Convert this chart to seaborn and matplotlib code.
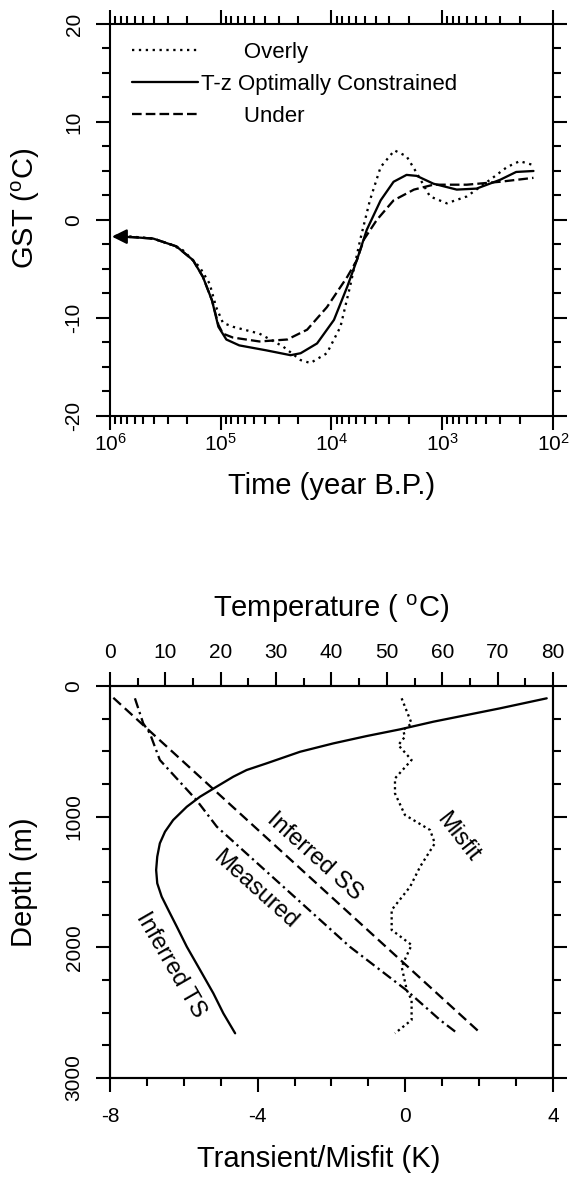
import numpy as np
import pandas as pd
import matplotlib
matplotlib.use("Agg")
import matplotlib.pyplot as plt
from matplotlib.ticker import MultipleLocator, FixedLocator
import seaborn as sns

# --- Panel 1: GST histories (time in years B.P.) ---
t_optimal = [891000, 631000, 407000, 251000, 178000, 145000, 120000, 105000, 89000,
             68000, 39000, 23400, 19000, 13500, 9500, 7200, 5900, 4800, 3600, 2750,
             2100, 1700, 1200, 740, 490, 300, 215, 150]
gst_optimal = [-1.7, -1.75, -1.9, -2.7, -4.1, -5.8, -8.2, -10.9, -12.2,
               -12.8, -13.3, -13.8, -13.6, -12.6, -10.2, -6.8, -4.1, -1.0, 2.0, 3.9,
               4.6, 4.5, 3.7, 3.1, 3.2, 4.1, 4.9, 5.0]

t_overly = [891000, 631000, 407000, 282000, 219000, 155000, 126000, 110000, 95500,
            77600, 44700, 27500, 19000, 15500, 11000, 8300, 6800, 5500, 4500, 3600,
            2700, 2100, 1700, 1290, 910, 600, 370, 260, 200, 150]
gst_overly = [-1.6, -1.7, -1.9, -2.5, -3.1, -4.8, -6.5, -8.9, -10.5,
              -10.9, -11.6, -12.9, -14.3, -14.6, -13.6, -10.9, -6.8, -2.0, 2.0, 5.4,
              7.1, 6.5, 4.8, 2.4, 1.7, 2.4, 4.1, 5.4, 6.0, 5.6]

t_under = [891000, 631000, 407000, 251000, 178000, 145000, 120000, 105000, 95500,
           77600, 44700, 25100, 16600, 11000, 7200, 5900, 5100, 3900, 2750, 1800,
           1200, 600, 300, 150]
gst_under = [-1.7, -1.75, -1.9, -2.7, -4.1, -5.8, -8.2, -10.7, -11.6,
             -12.0, -12.4, -12.2, -11.2, -8.9, -5.8, -4.1, -2.0, 0.0, 2.0, 3.1,
             3.6, 3.6, 3.9, 4.3]

arrow_gst = -1.7
arrow_tail_t = 700000
arrow_tip_t = 960000

legend_labels = ["       Overly", "T-z Optimally Constrained", "       Under"]

# --- Panel 2: temperature / transient profiles vs depth ---
depth_ss = [90, 2660]
temp_ss = [0.6, 67.0]

depth_measured = [94, 286, 362, 566, 872, 1077, 1536, 1995, 2327, 2556, 2663]
temp_measured = [4.5, 6.0, 7.2, 9.0, 15.6, 19.3, 31.3, 43.3, 53.5, 59.6, 62.9]

depth_ts = [94, 171, 273, 332, 383, 439, 503, 592, 643, 694, 770, 847, 924, 1026,
            1115, 1204, 1306, 1408, 1510, 1612, 1714, 1842, 1995, 2173, 2352, 2505, 2658]
transient_ts = [3.83, 2.56, 0.76, -0.15, -1.05, -1.95, -2.85, -3.76, -4.30, -4.66,
                -5.11, -5.56, -5.92, -6.29, -6.51, -6.65, -6.72, -6.75, -6.72, -6.60,
                -6.42, -6.19, -5.92, -5.56, -5.20, -4.93, -4.61]

depth_misfit = [94, 286, 337, 388, 452, 566, 707, 822, 987, 1102, 1204, 1383, 1536,
                1714, 1867, 1982, 2148, 2327, 2403, 2556, 2658]
misfit = [-0.10, 0.17, -0.06, -0.01, -0.19, 0.17, -0.28, -0.28, -0.01, 0.67, 0.80,
          0.40, 0.13, -0.37, -0.37, 0.17, -0.10, 0.04, 0.17, 0.17, -0.28]

curve_labels = ["Inferred SS", "Measured", "Misfit", "Inferred TS"]
label_x = [-2.45, -4.07, 1.43, -6.37]
label_depth = [1309, 1561, 1156, 2135]
label_rot = [-42, -42, -52, -60]

sns.set_theme(style="ticks")
plt.rcParams["font.family"] = ["Liberation Sans", "DejaVu Sans"]
plt.rcParams["mathtext.fontset"] = "custom"
plt.rcParams["mathtext.rm"] = "Liberation Sans"
plt.rcParams["mathtext.it"] = "Liberation Sans:italic"
plt.rcParams["axes.unicode_minus"] = False
plt.rcParams["text.color"] = "black"
plt.rcParams["axes.labelcolor"] = "black"
plt.rcParams["xtick.color"] = "black"
plt.rcParams["ytick.color"] = "black"
plt.rcParams["axes.edgecolor"] = "black"
plt.rcParams["axes.linewidth"] = 1.5

LW = 1.65
TICK_FS = 15
LABEL_FS = 21

fig = plt.figure(figsize=(5.75, 11.82), dpi=100)
ax1 = fig.add_axes([0.1913, 0.6481, 0.7704, 0.3316])
ax3 = fig.add_axes([0.1913, 0.0880, 0.7704, 0.3316])

# ---------- top panel ----------
sns.lineplot(x=t_overly, y=gst_overly, ax=ax1, color="black", lw=LW, sort=False,
             estimator=None, linestyle=(0, (1, 2.0)))
sns.lineplot(x=t_optimal, y=gst_optimal, ax=ax1, color="black", lw=LW, sort=False,
             estimator=None, linestyle="-")
sns.lineplot(x=t_under, y=gst_under, ax=ax1, color="black", lw=LW, sort=False,
             estimator=None, linestyle=(0, (4.2, 1.8)))
ax1.annotate("", xy=(arrow_tip_t, arrow_gst), xytext=(arrow_tail_t, arrow_gst),
             arrowprops=dict(arrowstyle="-|>", color="black", lw=LW,
                             mutation_scale=22, shrinkA=0, shrinkB=0))

ax1.set_xscale("log")
ax1.set_xlim(1e6, 1e2)
ax1.set_ylim(-20, 20)
ax1.yaxis.set_major_locator(FixedLocator([-20, -10, 0, 10, 20]))
ax1.yaxis.set_minor_locator(MultipleLocator(2.5))
ax1.tick_params(which="both", direction="out", top=True, right=True, width=1.5,
                labelsize=TICK_FS, color="black")
ax1.tick_params(which="major", length=10)
ax1.tick_params(which="minor", length=5.5)
ax1.tick_params(axis="x", pad=2)
ax1.tick_params(axis="y", pad=9)
plt.setp(ax1.get_yticklabels(), rotation=90, va="center")

ax1.set_xlabel("Time (year B.P.)", fontsize=LABEL_FS)
ax1.set_ylabel("GST ($^{\\mathrm{o}}$C)", fontsize=LABEL_FS)
ax1.xaxis.set_label_coords(0.5, -0.143)
ax1.yaxis.set_label_coords(-0.153, 0.53)

handles = ax1.get_lines()[:3]
ax1.legend(handles, legend_labels, loc="upper left", frameon=False, fontsize=16,
           handlelength=2.95, handletextpad=0.15, labelspacing=0.5,
           borderpad=0, borderaxespad=0, bbox_to_anchor=(0.05, 0.954))

# ---------- bottom panel ----------
sns.lineplot(x=transient_ts, y=depth_ts, ax=ax3, color="black", lw=LW, sort=False,
             estimator=None, linestyle="-")
sns.lineplot(x=misfit, y=depth_misfit, ax=ax3, color="black", lw=LW, sort=False,
             estimator=None, linestyle=(0, (1, 1.5)))
ax3.set_xlim(-8, 4)
ax3.set_ylim(3000, 0)
ax3.xaxis.set_major_locator(FixedLocator([-8, -4, 0, 4]))
ax3.xaxis.set_minor_locator(MultipleLocator(1))
ax3.yaxis.set_major_locator(FixedLocator([0, 1000, 2000, 3000]))
ax3.yaxis.set_minor_locator(MultipleLocator(250))

for txt, x, d, r in zip(curve_labels, label_x, label_depth, label_rot):
    ax3.text(x, d, txt, rotation=r, ha="center", va="center",
             rotation_mode="anchor", fontsize=17)

ax4 = ax3.twiny()
sns.lineplot(x=temp_ss, y=depth_ss, ax=ax4, color="black", lw=LW, sort=False,
             estimator=None, linestyle=(0, (4.5, 2.3)))
sns.lineplot(x=temp_measured, y=depth_measured, ax=ax4, color="black", lw=LW,
             sort=False, estimator=None, linestyle=(0, (4.5, 1.8, 1, 1.8)))
ax4.set_xlim(0, 80)
ax4.set_ylim(3000, 0)
ax4.xaxis.set_major_locator(MultipleLocator(10))
ax4.xaxis.set_minor_locator(MultipleLocator(5))

ax3.tick_params(which="both", direction="out", bottom=True, top=False, right=True,
                width=1.5, labelsize=TICK_FS, color="black")
ax3.tick_params(which="major", length=10)
ax3.tick_params(which="minor", length=5.5)
ax3.tick_params(axis="x", pad=11)
ax3.tick_params(axis="y", pad=9)
ax4.tick_params(which="both", direction="out", top=True, bottom=False, width=1.5,
                labelsize=TICK_FS, color="black", pad=7)
ax4.tick_params(which="major", length=10)
ax4.tick_params(which="minor", length=5.5)
plt.setp(ax3.get_yticklabels(), rotation=90, va="center")

ax3.set_xlabel("Transient/Misfit (K)", fontsize=LABEL_FS)
ax3.set_ylabel("Depth (m)", fontsize=LABEL_FS)
ax4.set_xlabel("Temperature ( $^{\\mathrm{o}}$C)", fontsize=LABEL_FS)
ax3.xaxis.set_label_coords(0.472, -0.171)
ax3.yaxis.set_label_coords(-0.163, 0.5)
ax4.xaxis.set_label_coords(0.5, 1.176)

for a in (ax1, ax3, ax4):
    for s in a.spines.values():
        s.set_visible(True)
        s.set_linewidth(1.5)
        s.set_color("black")

fig.savefig("out.png", dpi=100)
